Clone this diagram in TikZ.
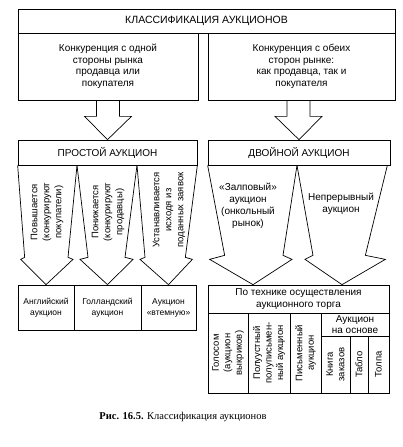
\documentclass[tikz,border=0pt]{standalone}
\usepackage{fontspec}
\setmainfont{Liberation Sans}
\newfontfamily\capfont{Liberation Serif}
\usepackage{tikz}
\usetikzlibrary{positioning}
\tikzset{%
  cell/.style   = {draw, line width=0.7pt, inner sep=1pt, align=center,
    font=\fontsize{10}{11.5}\selectfont}, % Box
  vcell/.style  = {cell, rotate=90, font=\fontsize{9.5}{11.5}\selectfont}, % Upright column
  small/.style  = {cell, font=\fontsize{8.5}{11}\selectfont},
  hollow/.style = {draw, line width=0.7pt, line join=miter}, % Block arrow
  label/.style  = {align=center, font=\fontsize{10}{12}\selectfont},
  vlabel/.style = {label, rotate=90, font=\fontsize{9.5}{12}\selectfont}
}

\begin{document}
\begin{tikzpicture}[x=1pt, y=-1pt]
\useasboundingbox (0,0) rectangle (403,447);
\draw
    node at(206.5,21)[cell,minimum width=377pt,minimum height=24pt,
      font=\fontsize{10.5}{12}\selectfont,name=title]{КЛАССИФИКАЦИЯ АУКЦИОНОВ}
    node at(108,66.5)[cell,minimum width=180pt,minimum height=67pt,name=one]
      {Конкуренция с одной\\стороны рынка\\продавца или\\покупателя}
    node at(301.5,66.5)[cell,minimum width=187pt,minimum height=67pt,name=both]
      {Конкуренция с обеих\\сторон рынке:\\как продавца, так и\\покупателя}

    node at(107.5,152.5)[cell,minimum width=179pt,minimum height=25pt,name=simple]{ПРОСТОЙ АУКЦИОН}
    node at(299,152.5)[cell,minimum width=182pt,minimum height=25pt,name=double]{ДВОЙНОЙ АУКЦИОН}

    node at(46,307.5)[small,minimum width=56pt,minimum height=45pt,name=eng]{Английский\\аукцион}
    node at(107.5,307.5)[small,minimum width=67pt,minimum height=45pt,name=dutch]{Голландский\\аукцион}
    node at(168.5,307.5)[small,minimum width=55pt,minimum height=45pt,name=dark]{Аукцион\\«втемную»}

    node at(298.5,299)[cell,minimum width=181pt,minimum height=28pt,name=tech]
      {По технике осуществления\\аукционного торга}
    node at(228,353)[vcell,minimum width=80pt,minimum height=40pt,name=voice]{Голосом\\(аукцион\\выкриков)}
    node at(269,353)[vcell,minimum width=80pt,minimum height=42pt,name=semi]{Полуустный\\полуписьмен-\\ный аукцион}
    node at(305.5,353)[vcell,minimum width=80pt,minimum height=31pt,name=written]{Письменный\\аукцион}
    node at(355,324.5)[cell,minimum width=68pt,minimum height=23pt,name=basis]{Аукцион\\на основе}
    node at(335.5,364.5)[vcell,minimum width=57pt,minimum height=29pt,name=book]{Книга\\заказов}
    node at(359,364.5)[vcell,minimum width=57pt,minimum height=18pt,name=board]{Табло}
    node at(378.5,364.5)[vcell,minimum width=57pt,minimum height=21pt,name=crowd]{Толпа}

    node at(47,212)[vlabel,name=rise]{Повышается\\(конкурируют\\покупатели)}
    node at(108,212)[vlabel,name=fall]{Понижается\\(конкурируют\\продавцы)}
    node at(169,210)[vlabel,name=fixed]{Устанавливается\\исходя из\\поданных заявок}
    node at(248,206)[label,name=call]{«Залповый»\\аукцион\\(онкольный\\рынок)}
    node at(341,204)[label,name=cont]{Непрерывный\\аукцион}

    node at(183,417)[font=\capfont\fontsize{10.5}{12}\selectfont,name=caption]
      {\textbf{Рис. 16.5.} Классификация аукционов}
;

    % block arrows from the two kinds of competition
    \draw[hollow]([xshift=-11.5pt]one.south) -- ++(0,16) -- ++(-12,0) -- (simple.north);
    \draw[hollow]([xshift=11.5pt]one.south) -- ++(0,16) -- ++(12,0) -- (simple.north);
    \draw[hollow]([xshift=-14.5pt]both.south) -- ++(0,16) -- ++(-12,0) -- (double.north);
    \draw[hollow]([xshift=8.5pt]both.south) -- ++(0,16) -- ++(12,0) -- (double.north);

    % simple auction
    \draw[hollow](simple.south west) -- ++(7,92) -- ++(-4,2) -- (eng.north);
    \draw[hollow]([xshift=-30.5pt]simple.south) -- ++(-9,92) -- ++(5,2) -- (eng.north);
    \draw[hollow]([xshift=-30.5pt]simple.south) -- ++(11,92) -- ++(-8,2) -- (dutch.north);
    \draw[hollow]([xshift=29.5pt]simple.south) -- ++(-12,92) -- ++(8,2) -- (dutch.north);
    \draw[hollow]([xshift=29.5pt]simple.south) -- ++(8,92) -- ++(-5,2) -- (dark.north);
    \draw[hollow](simple.south east) -- ++(-12,92) -- ++(7,2) -- (dark.north);

    % double auction
    \draw[hollow](double.south west) -- ++(17,90) -- ++(-15,4) -- ([xshift=-45.5pt]tech.north);
    \draw[hollow]([xshift=-2pt]double.south) -- ++(-14,90) -- ++(9,4) -- ([xshift=-45.5pt]tech.north);
    \draw[hollow]([xshift=-2pt]double.south) -- ++(16,90) -- ++(-8,4) -- ([xshift=43.5pt]tech.north);
    \draw[hollow]([xshift=-3pt]double.south east) -- ++(-22,90) -- ++(20,4) -- ([xshift=43.5pt]tech.north);
\end{tikzpicture}
\end{document}
